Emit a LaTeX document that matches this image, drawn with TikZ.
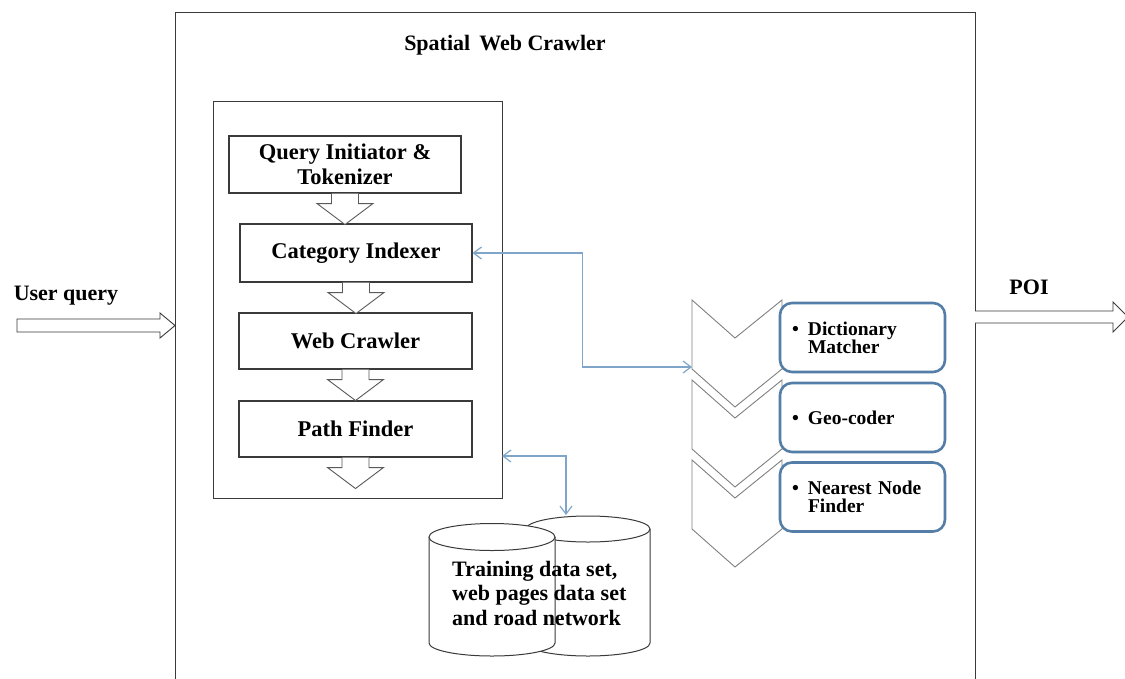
\documentclass[tikz,border=0pt]{standalone}
\usepackage{fontspec}
\setmainfont{Liberation Serif}
\usetikzlibrary{arrows.meta}
\definecolor{boxline}{HTML}{3A3A3A}
\definecolor{blueline}{HTML}{547DA8}
\definecolor{connblue}{HTML}{7FA6C8}
\definecolor{chevgray}{HTML}{808080}
\definecolor{arrgray}{HTML}{5A5A5A}
\newcommand\bxfont{\fontsize{22.5pt}{25pt}\selectfont\bfseries}
\newcommand\dbfont{\fontsize{22pt}{24.5pt}\selectfont\bfseries}
\newcommand\lblfont{\fontsize{22pt}{25pt}\selectfont\bfseries}
\newcommand\smfont{\fontsize{19.5pt}{18pt}\selectfont\bfseries}
\begin{document}
\begin{tikzpicture}[x=1pt,y=-1pt,
 proc/.style={draw=boxline,line width=1.1pt,fill=white,minimum width=232pt,minimum height=57pt,align=center,font=\bxfont,inner sep=0pt},
 blu/.style={draw=blueline,line width=2.6pt,fill=white,rounded corners=12pt,minimum width=165pt,minimum height=69pt,text width=141pt,inner xsep=12pt,inner ysep=0pt,align=left,font=\smfont},
 conn/.style={draw=connblue,line width=1.2pt,{Straight Barb[length=8pt,width=12pt]}-{Straight Barb[length=8pt,width=12pt]}},
 blk/.style={draw=arrgray,line width=0.9pt,fill=white,line join=miter},
 chv/.style={draw=chevgray,line width=0.9pt,fill=white},
 cyl/.style={draw=boxline,line width=1pt,fill=white},
 lbl/.style={font=\lblfont,inner sep=0pt},
 blockdown/.pic={\draw[blk] (-13.5,0) -- (-13.5,10) -- (-28,10) -- (0,31) -- (28,10) -- (13.5,10) -- (13.5,0);},
 chevron/.pic={\draw[chv] (0,0) -- (43,38) -- (90,0) -- (90,69) -- (43,107) -- (0,69) -- cycle;}
]
\useasboundingbox (0,0) rectangle (1125,678);
\clip (0,0) rectangle (1125,678);
\fill[white] (0,0) rectangle (1125,678);

% outer frame
\node[draw=boxline,line width=1.2pt,minimum width=800pt,minimum height=700pt,anchor=north west,inner sep=0pt] (frame) at (175,12) {};
\node[lbl] (title) at (505,45) {Spatial\hspace{9pt}Web Crawler};

% inner box
\node[draw=boxline,line width=1.1pt,minimum width=289pt,minimum height=397pt,anchor=north west,inner sep=0pt] (inner) at (213,101) {};

\node[proc] (q) at (345,164.5) {Query Initiator \&\\Tokenizer};
\node[proc,minimum height=58pt] (cat) at (356,253) {Category Indexer};
\node[proc,minimum width=233pt,minimum height=56pt] (web) at (355.5,341) {Web Crawler};
\node[proc,minimum width=233pt,minimum height=56pt] (path) at (355.5,429) {Path Finder};

\pic at (q.south) {blockdown};
\pic at (cat.south) {blockdown};
\pic at (web.south) {blockdown};
\pic at (path.south) {blockdown};

% chevrons and blue boxes
\pic at (692,300) {chevron};
\pic at (692,380) {chevron};
\pic at (692,460) {chevron};
\node[blu] (b1) at (862.5,337.5) {\makebox[16pt][l]{\textbullet}\parbox[t]{122pt}{Dictionary\\Matcher}};
\node[blu] (b2) at (862.5,417.5) {\makebox[16pt][l]{\textbullet}Geo-coder};
\node[blu] (b3) at (862.5,497) {\makebox[16pt][l]{\textbullet}\parbox[t]{122pt}{Nearest Node\\Finder}};
\coordinate (chevin) at (692,367);

% database cylinders
\draw[cyl] (526,529) -- (526,643) arc[start angle=180,end angle=360,x radius=62pt,y radius=13pt] -- (650,529);
\draw[cyl] (588,529) ellipse[x radius=62pt,y radius=13pt];
\draw[cyl] (429,537) -- (429,643) arc[start angle=180,end angle=360,x radius=63pt,y radius=13pt] -- (555,537);
\draw[cyl] (492,537) ellipse[x radius=63pt,y radius=13.5pt];
\node[font=\dbfont,align=left,inner sep=0pt,anchor=west] (db) at (452,593) {Training data set,\\web pages data set\\and\hspace{6pt}road network};
\coordinate (dbin) at (566,515);
\coordinate (pfport) at (502,456);

% connectors
\draw[conn] (cat.east) -- ++(110,0) |- (chevin);
\draw[conn] (pfport) -| (dbin);

% user query arrow
\node[lbl] (uq) at (66,296) {User query};
\draw[blk,draw=boxline] (17,319) -- (160,319) -- (160,313) -- (175,325.5) -- (160,338) -- (160,332) -- (17,332) -- cycle;

% POI arrow
\node[lbl] (poi) at (1029,287) {POI};
\draw[blk,draw=boxline] (975,311) -- (1113,311) -- (1113,302) -- (1128,317) -- (1113,332) -- (1113,323) -- (975,323);
\end{tikzpicture}
\end{document}
